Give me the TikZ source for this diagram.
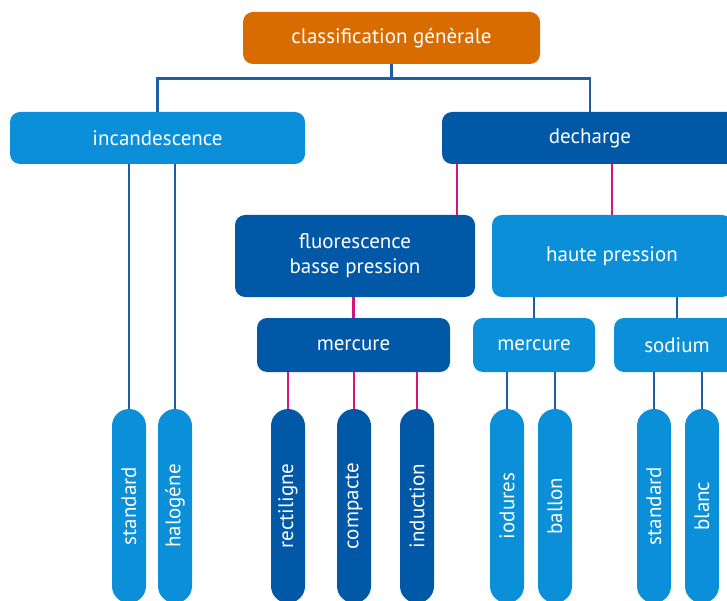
\documentclass[tikz,border=0pt]{standalone}
\usepackage{fontspec}
\setmainfont{PT Sans}
\usepackage{xcolor}
\usepackage{tikz}
\definecolor{orangebox}{HTML}{D96C00}
\definecolor{lightblue}{HTML}{0A8FD8}
\definecolor{darkblue}{HTML}{0058A6}
\definecolor{lineblue}{HTML}{1F5DA6}
\definecolor{linepink}{HTML}{D4157F}
\tikzset{
  box/.style={rounded corners=10pt, text=white, align=center, inner sep=0pt,
    font=\fontsize{21}{25}\selectfont},
  lamp/.style={rounded corners=17pt, text=white, inner sep=0pt,
    minimum width=34pt, minimum height=194pt, font=\fontsize{21}{25}\selectfont},
  bline/.style={draw=lineblue, line width=2.8pt},
  pline/.style={draw=linepink, line width=2.8pt},
}

\begin{document}
\begin{tikzpicture}[x=1pt,y=-1pt]
    \path[use as bounding box, clip] (0,0) rectangle (727,601);
    \node[box, fill=orangebox, minimum width=297pt, minimum height=52pt] (classif) at (391.5,38) {classification génèrale};
    \node[box, fill=lightblue, minimum width=295pt, minimum height=52pt] (incand) at (157.5,138) {incandescence};
    \node[box, fill=darkblue, minimum width=296pt, minimum height=52pt] (decharge) at (590,138) {decharge};
    \node[box, fill=darkblue, minimum width=240pt, minimum height=82pt] (fluo) at (355,256) {fluorescence\\basse pression};
    \node[box, fill=lightblue, minimum width=240pt, minimum height=82pt] (haute) at (612,256) {haute pression};
    \node[box, fill=darkblue, minimum width=193pt, minimum height=54pt] (merc1) at (353.5,345) {mercure};
    \node[box, fill=lightblue, minimum width=122pt, minimum height=54pt] (merc2) at (534,345) {mercure};
    \node[box, fill=lightblue, minimum width=126pt, minimum height=54pt] (sodium) at (677,345) {sodium};
    \node[lamp, fill=lightblue] (std1) at (129,506) {\rotatebox{90}{standard}};
    \node[lamp, fill=lightblue] (halog) at (175,506) {\rotatebox{90}{halogéne}};
    \node[lamp, fill=darkblue] (rectil) at (288,506) {\rotatebox{90}{rectiligne}};
    \node[lamp, fill=darkblue] (compact) at (354,506) {\rotatebox{90}{compacte}};
    \node[lamp, fill=darkblue] (induc) at (417,506) {\rotatebox{90}{induction}};
    \node[lamp, fill=lightblue] (iodur) at (507,506) {\rotatebox{90}{iodures}};
    \node[lamp, fill=lightblue] (ballon) at (555,506) {\rotatebox{90}{ballon}};
    \node[lamp, fill=lightblue] (std2) at (654,506) {\rotatebox{90}{standard}};
    \node[lamp, fill=lightblue] (blanc) at (702,506) {\rotatebox{90}{blanc}};
    \draw[bline] (classif.south) -- ++(0,14) -| (incand.north);
    \draw[bline] (classif.south) -- ++(0,14) -| (decharge.north);
    \draw[bline] (std1.north |- incand.south) -- (std1.north);
    \draw[bline] (halog.north |- incand.south) -- (halog.north);
    \draw[pline] (decharge.south -| 457,0) -- (fluo.north -| 457,0);
    \draw[pline] (haute.north |- decharge.south) -- (haute.north);
    \draw[pline] (merc1.north |- fluo.south) -- (merc1.north);
    \draw[bline] (merc2.north |- haute.south) -- (merc2.north);
    \draw[bline] (sodium.north |- haute.south) -- (sodium.north);
    \draw[pline] (rectil.north |- merc1.south) -- (rectil.north);
    \draw[pline] (compact.north |- merc1.south) -- (compact.north);
    \draw[pline] (induc.north |- merc1.south) -- (induc.north);
    \draw[bline] (iodur.north |- merc2.south) -- (iodur.north);
    \draw[bline] (ballon.north |- merc2.south) -- (ballon.north);
    \draw[bline] (std2.north |- sodium.south) -- (std2.north);
    \draw[bline] (blanc.north |- sodium.south) -- (blanc.north);
\end{tikzpicture}
\end{document}
